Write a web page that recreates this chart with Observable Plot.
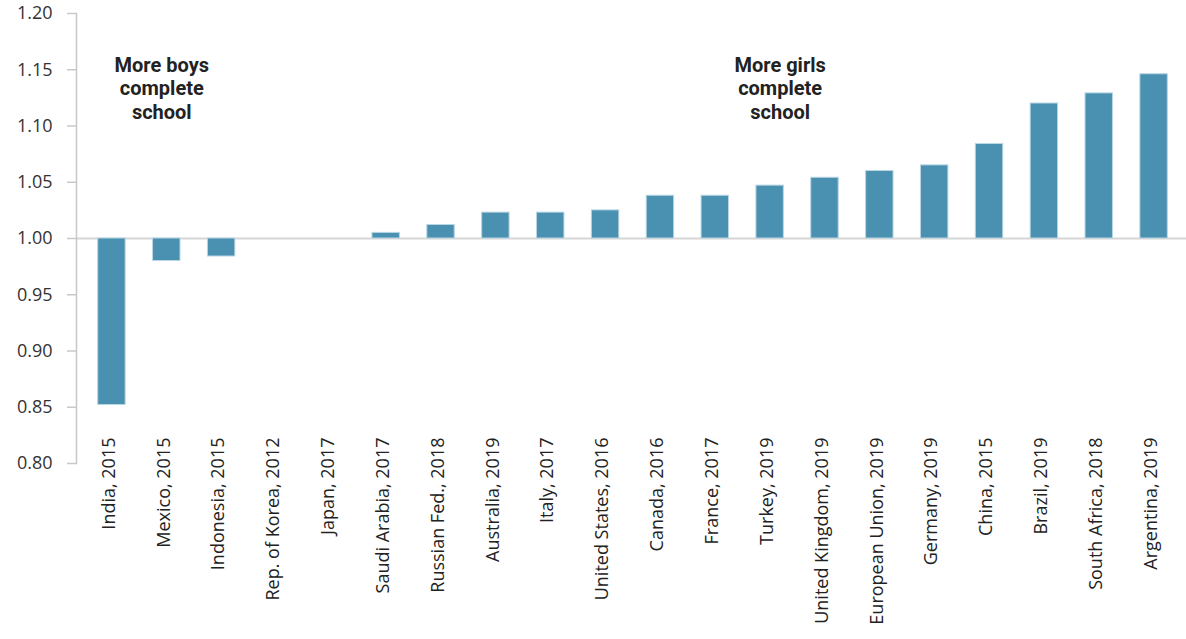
<!DOCTYPE html>
<html>
<head>
<meta charset="utf-8">
<script src="https://cdn.jsdelivr.net/npm/d3@7"></script>
<script src="https://cdn.jsdelivr.net/npm/@observablehq/plot@0.6"></script>
<style>
  html, body { margin: 0; padding: 0; background: #fff; }
</style>
</head>
<body>
<div id="chart"></div>
<script>
const countries = [
  "India, 2015", "Mexico, 2015", "Indonesia, 2015", "Rep. of Korea, 2012", "Japan, 2017",
  "Saudi Arabia, 2017", "Russian Fed., 2018", "Australia, 2019", "Italy, 2017", "United States, 2016",
  "Canada, 2016", "France, 2017", "Turkey, 2019", "United Kingdom, 2019", "European Union, 2019",
  "Germany, 2019", "China, 2015", "Brazil, 2019", "South Africa, 2018", "Argentina, 2019"
];
const ratios = [
  0.852, 0.980, 0.984, 1.000, 1.000,
  1.005, 1.012, 1.023, 1.023, 1.025,
  1.038, 1.038, 1.047, 1.054, 1.060,
  1.065, 1.084, 1.120, 1.129, 1.146
];
const yTicks = [0.80, 0.85, 0.90, 0.95, 1.00, 1.05, 1.10, 1.15, 1.20];
const annotationTexts = ["More boys\ncomplete\nschool", "More girls\ncomplete\nschool"];
const annotationAnchors = ["Mexico, 2015", "Turkey, 2019"];

const data = countries.map((c, i) => ({country: c, ratio: ratios[i]}));
const notes = annotationTexts.map((t, i) => ({text: t, country: annotationAnchors[i]}));

const chart = Plot.plot({
  width: 1186,
  height: 639,
  marginTop: 13,
  marginBottom: 176,
  marginLeft: 76,
  marginRight: 0,
  style: {fontFamily: "'Open Sans', sans-serif", background: "#fff"},
  x: {domain: countries, paddingInner: 0.5, paddingOuter: 0.25, round: false, insetLeft: 8, insetRight: 5, label: null},
  y: {domain: [0.8, 1.2], label: null},
  marks: [
    Plot.ruleY([1], {stroke: "#d6d6d6", strokeWidth: 2}),
    Plot.frame({anchor: "left", stroke: "#c8c8c8", strokeWidth: 1.5}),
    Plot.axisY({
      ticks: yTicks, tickFormat: d3.format(".2f"), tickSize: 9, tickPadding: 15,
      stroke: "#c8c8c8", strokeWidth: 1.5, fill: "#333", fontSize: 18, label: null
    }),
    Plot.barY(data, {x: "country", y1: 1, y2: "ratio", fill: "#4a90b0", stroke: "#b8d6e4", strokeWidth: 1}),
    Plot.axisX({
      tickRotate: -90, tickSize: 0, tickPadding: 0, dy: -26, dx: -3,
      fill: "#222", fontSize: 18, label: null
    }),
    Plot.text(notes.slice(0, 1), {
      x: "country", y: 1.134, text: "text", lineAnchor: "middle", lineHeight: 1.18, dx: -5,
      fontFamily: "Roboto", fontWeight: "bold", fontSize: 20, fill: "#222"
    }),
    Plot.text(notes.slice(1), {
      x: "country", y: 1.134, text: "text", lineAnchor: "middle", lineHeight: 1.18, dx: 10,
      fontFamily: "Roboto", fontWeight: "bold", fontSize: 20, fill: "#222"
    })
  ]
});
document.getElementById("chart").appendChild(chart);
</script>
</body>
</html>
